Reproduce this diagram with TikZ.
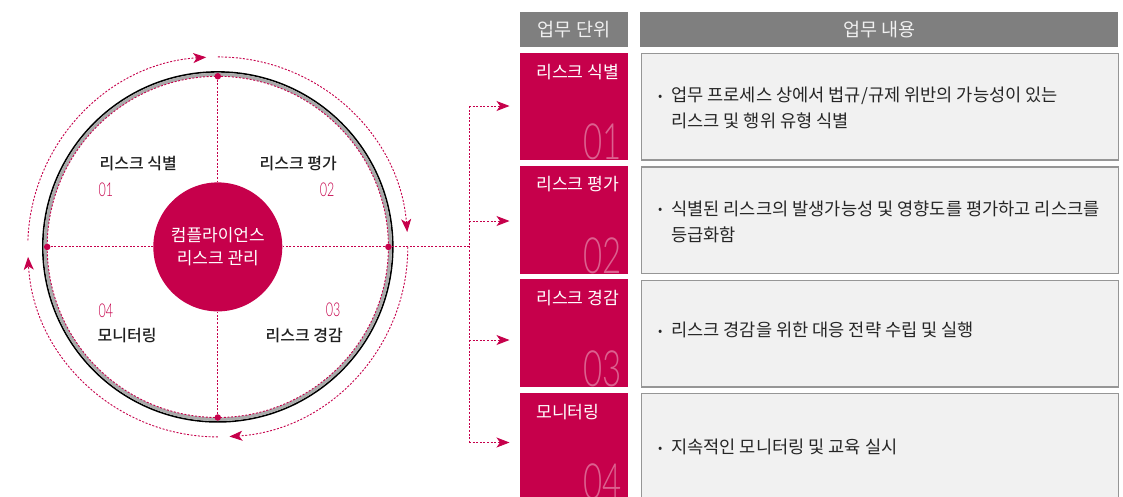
\documentclass[tikz,border=0pt]{standalone}
\usepackage{fontspec}
\setmainfont{Noto Sans CJK KR}
\IfFontExistsTF{Noto Sans CJK KR Medium}{\newfontfamily\medfont{Noto Sans CJK KR Medium}}{\newfontfamily\medfont{Noto Sans CJK KR}}
\IfFontExistsTF{Lato Light}{\newfontfamily\numfont[FakeStretch=0.66]{Lato Light}}{\newfontfamily\numfont[FakeStretch=0.64]{Noto Sans CJK KR}}
\usetikzlibrary{arrows.meta,calc}
\definecolor{rpink}{RGB}{198,0,75}
\definecolor{hdgray}{RGB}{127,127,127}
\definecolor{ringgray}{RGB}{170,170,170}
\definecolor{boxfill}{RGB}{241,241,241}
\definecolor{boxline}{RGB}{150,150,150}
\newcommand\bul{\makebox[13pt][l]{\raisebox{1.3pt}{\fontsize{12.5}{12.5}\selectfont\textbullet}}}
\tikzset{
  pinkdash/.style={draw=rpink, line width=0.9pt, dash pattern=on 2pt off 1.6pt},
  tipped/.style={-{Stealth[length=13pt,width=10pt,inset=3.5pt]}},
  ringdot/.style={circle, fill=rpink, inner sep=0pt, minimum size=6.5pt},
  qlabel/.style={font=\medfont\fontsize{16}{16}\selectfont, text=black!88, inner sep=0pt},
  qnum/.style={font=\numfont\fontsize{19}{19}\selectfont, text=rpink, inner sep=0pt},
  hdbox/.style={fill=hdgray, draw=none, inner sep=0pt, anchor=north west, minimum height=34.7pt},
  hdtext/.style={font=\fontsize{18.5}{18.5}\selectfont, text=white!94!black, inner sep=0pt},
  pinkbox/.style={fill=rpink, draw=none, inner sep=0pt, anchor=north west, minimum width=108pt, minimum height=107.7pt},
  pinktitle/.style={font=\fontsize{17.2}{17.2}\selectfont, text=white, inner sep=0pt, anchor=west},
  bignum/.style={font=\numfont\fontsize{50}{50}\selectfont, text=white!38!rpink, inner sep=0pt, anchor=base east},
  cbox/.style={fill=boxfill, draw=boxline, line width=1.3pt, inner sep=0pt, anchor=north west, minimum width=477pt, minimum height=106.5pt},
  ctext/.style={font=\fontsize{17.6}{26}\selectfont, text=black!85, align=left, inner sep=0pt, anchor=west}
}
\begin{document}
\begin{tikzpicture}[x=1pt,y=-1pt]
\useasboundingbox (0,0) rectangle (1123,496);
\clip (0,0) rectangle (1123,496);
\fill[white] (0,0) rectangle (1123,496);

% ---------- circle diagram ----------
\coordinate (C) at (217.8,246.9);
\draw[black, line width=1.6pt] (C) circle[radius=175pt];
\draw[ringgray, line width=3.4pt] (C) circle[radius=172.4pt];
\draw[pinkdash] (C) circle[radius=170.6pt];

\node[circle, fill=rpink, inner sep=0pt, minimum size=129pt, align=center,
      text=white, font=\fontsize{17}{23}\selectfont] (core) at (C) {컴플라이언스\\리스크 관리};

\node[ringdot] (dT) at ($(C)+(90:170.6pt)$) {};
\node[ringdot] (dB) at ($(C)+(-90:170.6pt)$) {};
\node[ringdot] (dL) at ($(C)+(180:170.6pt)$) {};
\node[ringdot] (dR) at ($(C)+(0:170.6pt)$) {};

\draw[pinkdash] (dT) -- (core.north);
\draw[pinkdash] (dB) -- (core.south);
\draw[pinkdash] (dL) -- (core.west);
\draw[pinkdash] (dR) -- (core.east);

% outer cycle arrows
\draw[pinkdash, tipped] ($(C)+(178:190pt)$) arc[start angle=178, end angle=93.5, radius=190pt];
\draw[pinkdash, tipped] ($(C)+(90:190pt)$) arc[start angle=90, end angle=4.5, radius=190pt];
\draw[pinkdash, tipped] ($(C)+(0:190pt)$) arc[start angle=0, end angle=-86.5, radius=190pt];
\draw[pinkdash, tipped] ($(C)+(-90:190pt)$) arc[start angle=-90, end angle=-177, radius=190pt];

% quadrant labels
\node[qlabel, anchor=west] (q1) at (99.5,163.3) {리스크 식별};
\node[qnum, anchor=west] (n1) at (98.5,190) {01};
\node[qlabel, anchor=east] (q2) at (337,163.3) {리스크 평가};
\node[qnum, anchor=east] (n2) at (334.5,190) {02};
\node[qnum, anchor=east] (n3) at (340.5,309.5) {03};
\node[qlabel, anchor=east] (q3) at (343,335.5) {리스크 경감};
\node[qnum, anchor=west] (n4) at (98.5,310.5) {04};
\node[qlabel, anchor=west] (q4) at (97.5,336) {모니터링};

% ---------- connectors to table ----------
\coordinate (bus) at (469,246.9);
\coordinate (b1) at (469,106);
\coordinate (b2) at (469,221);
\coordinate (b3) at (469,340);
\coordinate (b4) at (469,442.5);
\coordinate (a1) at (509.5,106);
\coordinate (a2) at (509.5,221);
\coordinate (a3) at (509.5,340);
\coordinate (a4) at (509.5,442.5);
\draw[pinkdash] (dR) -- (bus);
\draw[pinkdash] (b1) -- (b4);
\draw[pinkdash, tipped] (b1) -- (a1);
\draw[pinkdash, tipped] (b2) -- (a2);
\draw[pinkdash, tipped] (b3) -- (a3);
\draw[pinkdash, tipped] (b4) -- (a4);

% ---------- table ----------
\node[hdbox, minimum width=107.7pt] (h1) at (520,12) {};
\node[hdbox, minimum width=478pt] (h2) at (640,12) {};
\node[hdtext] at (h1.center) {업무 단위};
\node[hdtext] at (h2.center) {업무 내용};

\node[pinkbox] (u1) at (520,52.3) {};
\node[pinkbox] (u2) at (520,165.8) {};
\node[pinkbox] (u3) at (520,279.2) {};
\node[pinkbox] (u4) at (520,392.4) {};

\node[pinktitle] (t1) at (536,71.8) {리스크 식별};
\node[pinktitle] (t2) at (536,184.0) {리스크 평가};
\node[pinktitle] (t3) at (536,298.4) {리스크 경감};
\node[pinktitle] (t4) at (536,411.7) {모니터링};

\node[bignum] (m1) at (621.5,159.5) {01};
\node[bignum] (m2) at (621.5,273.2) {02};
\node[bignum] (m3) at (621.5,386.6) {03};
\node[bignum] (m4) at (621.5,499.8) {04};

\node[cbox] (c1) at (640.6,52.9) {};
\node[cbox] (c2) at (640.6,166.4) {};
\node[cbox] (c3) at (640.6,279.8) {};
\node[cbox] (c4) at (640.6,393.0) {};

\node[ctext] (x1) at (658,108) {\bul 업무 프로세스 상에서 법규/규제 위반의 가능성이 있는\\\hspace*{13pt}리스크 및 행위 유형 식별};
\node[ctext] (x2) at (658,221.5) {\bul 식별된 리스크의 발생가능성 및 영향도를 평가하고 리스크를\\\hspace*{13pt}등급화함};
\node[ctext] (x3) at (658,330) {\bul 리스크 경감을 위한 대응 전략 수립 및 실행};
\node[ctext] (x4) at (658,447) {\bul 지속적인 모니터링 및 교육 실시};
\end{tikzpicture}
\end{document}
